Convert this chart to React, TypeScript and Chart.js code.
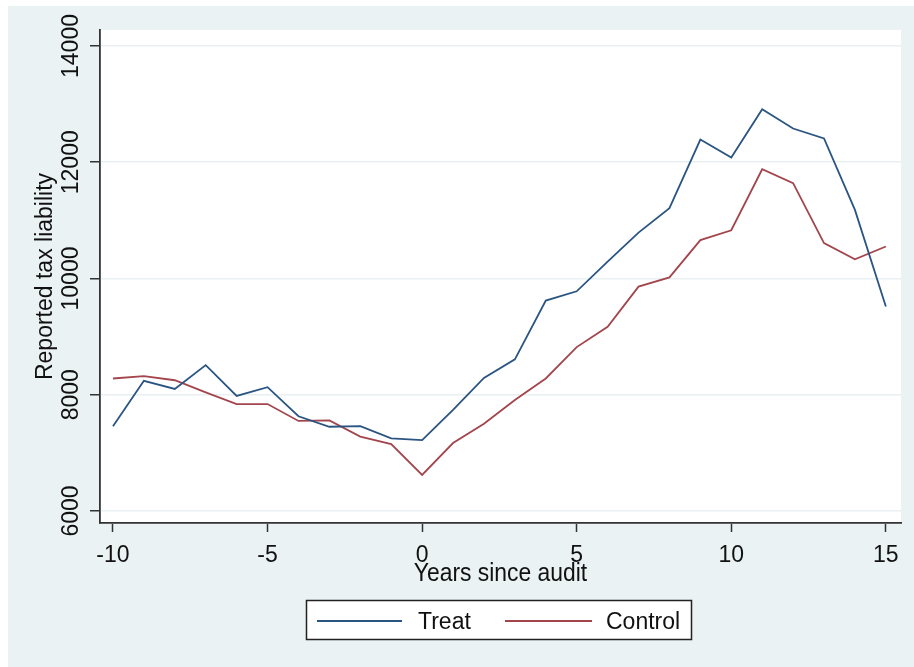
import React, { useEffect, useRef } from "react";
import { Chart, registerables } from "chart.js";

Chart.register(...registerables);

// ---- data ----
const years = [-10, -9, -8, -7, -6, -5, -4, -3, -2, -1, 0, 1, 2, 3, 4, 5, 6, 7, 8, 9, 10, 11, 12, 13, 14, 15];
const treat = [7460, 8240, 8100, 8510, 7980, 8130, 7630, 7450, 7460, 7250, 7220, 7740, 8290, 8610, 9620, 9780, 10290, 10790, 11210, 12390, 12080, 12910, 12580, 12410, 11180, 9520];
const control = [8280, 8320, 8250, 8040, 7840, 7840, 7550, 7560, 7280, 7150, 6620, 7170, 7500, 7910, 8280, 8820, 9170, 9860, 10020, 10660, 10830, 11880, 11640, 10610, 10330, 10550];
const seriesNames = ["Treat", "Control"];
const xTicks = [-10, -5, 0, 5, 10, 15];
const yTicks = [6000, 8000, 10000, 12000, 14000];
const xTitle = "Years since audit";
const yTitle = "Reported tax liability";

// ---- styles ----
const BG = "rgb(234,242,243)";
const GRID = "rgb(232,240,242)";
const AXIS = "#333333";
const TEXT = "#111111";
const TREAT_COLOR = "#2a5582";
const CONTROL_COLOR = "#a3454c";
const FONT = '"Liberation Sans", Arial, sans-serif';

const deco = {
  id: "deco",
  beforeDraw(chart: any) {
    const { ctx, chartArea: a, width, height } = chart;
    ctx.save();
    ctx.fillStyle = "#ffffff";
    ctx.fillRect(0, 0, width, height);
    ctx.fillStyle = BG;
    ctx.fillRect(8, 6, width - 8, height - 6);
    ctx.fillStyle = "#ffffff";
    ctx.fillRect(a.left, a.top, a.right - a.left, a.bottom - a.top);
    ctx.restore();
  },
  afterDraw(chart: any) {
    const { ctx, chartArea: a, scales } = chart;
    const xs = scales.x;
    const ys = scales.y;
    ctx.save();
    ctx.fillStyle = TEXT;
    ctx.textAlign = "center";
    ctx.textBaseline = "alphabetic";
    ctx.font = `23px ${FONT}`;
    xTicks.forEach((v) => {
      ctx.fillText(String(v), xs.getPixelForValue(v), 562);
    });
    yTicks.forEach((v) => {
      ctx.save();
      ctx.translate(78, ys.getPixelForValue(v));
      ctx.rotate(-Math.PI / 2);
      ctx.fillText(String(v), 0, 0);
      ctx.restore();
    });
    // x title
    ctx.save();
    ctx.translate((a.left + a.right) / 2, 581);
    ctx.scale(0.88, 1);
    ctx.font = `26px ${FONT}`;
    ctx.fillText(xTitle, 0, 0);
    ctx.restore();
    // y title
    ctx.save();
    ctx.translate(52, (a.top + a.bottom) / 2);
    ctx.rotate(-Math.PI / 2);
    ctx.font = `23px ${FONT}`;
    ctx.fillText(yTitle, 0, 0);
    ctx.restore();
    // legend
    ctx.fillStyle = "#ffffff";
    ctx.fillRect(306, 600, 386, 40);
    ctx.strokeStyle = "#222222";
    ctx.lineWidth = 1.5;
    ctx.strokeRect(306.5, 600.5, 385, 39);
    const colors = [TREAT_COLOR, CONTROL_COLOR];
    const lineX = [[317, 402], [505, 592]];
    const textX = [418, 606];
    ctx.lineWidth = 2;
    ctx.font = `23px ${FONT}`;
    ctx.textAlign = "left";
    seriesNames.forEach((name, i) => {
      ctx.strokeStyle = colors[i];
      ctx.beginPath();
      ctx.moveTo(lineX[i][0], 621);
      ctx.lineTo(lineX[i][1], 621);
      ctx.stroke();
      ctx.fillStyle = TEXT;
      ctx.fillText(name, textX[i], 629);
    });
    ctx.restore();
  },
};

export default function App() {
  const ref = useRef<HTMLCanvasElement>(null);
  useEffect(() => {
    if (!ref.current) return;
    const chart = new Chart(ref.current, {
      type: "line",
      data: {
        datasets: [
          {
            label: seriesNames[0],
            data: years.map((x, i) => ({ x, y: treat[i] })),
            borderColor: TREAT_COLOR,
            borderWidth: 1.8,
            pointRadius: 0,
            tension: 0,
            fill: false,
          },
          {
            label: seriesNames[1],
            data: years.map((x, i) => ({ x, y: control[i] })),
            borderColor: CONTROL_COLOR,
            borderWidth: 1.8,
            pointRadius: 0,
            tension: 0,
            fill: false,
          },
        ],
      },
      options: {
        responsive: false,
        animation: false,
        devicePixelRatio: 1,
        layout: { padding: { left: 90, right: 13, top: 30, bottom: 135 } },
        plugins: { legend: { display: false }, tooltip: { enabled: false }, title: { display: false } },
        scales: {
          x: {
            type: "linear",
            min: -10.42,
            max: 15.49,
            afterBuildTicks: (s: any) => {
              s.ticks = xTicks.map((v) => ({ value: v }));
            },
            ticks: { display: false },
            grid: { display: true, drawOnChartArea: false, drawTicks: true, tickLength: 9, tickColor: AXIS, tickWidth: 1.5 },
            border: { display: true, color: AXIS, width: 1.8 },
          },
          y: {
            type: "linear",
            min: 5794,
            max: 14275,
            afterBuildTicks: (s: any) => {
              s.ticks = yTicks.map((v) => ({ value: v }));
            },
            ticks: { display: false },
            grid: { display: true, drawOnChartArea: true, color: GRID, lineWidth: 1.5, drawTicks: true, tickLength: 10, tickColor: AXIS, tickWidth: 1.5 },
            border: { display: true, color: AXIS, width: 1.8 },
          },
        },
      },
      plugins: [deco],
    });
    return () => chart.destroy();
  }, []);
  return (
    <div style={{ position: "fixed", left: 0, top: 0, width: 914, height: 667 }}>
      <canvas ref={ref} width={914} height={667} style={{ display: "block", width: 914, height: 667 }} />
    </div>
  );
}
